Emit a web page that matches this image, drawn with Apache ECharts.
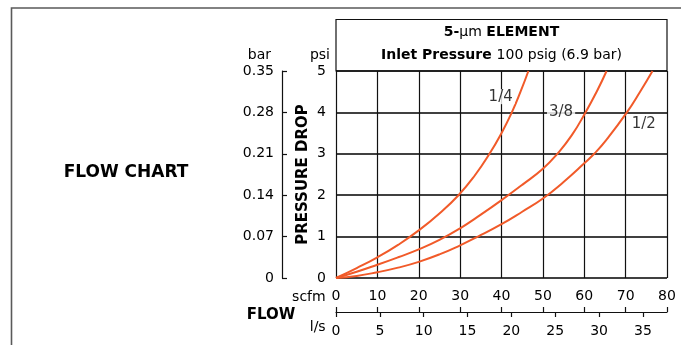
<!DOCTYPE html>
<html>
<head>
<meta charset="utf-8">
<script src="https://cdn.jsdelivr.net/npm/echarts@6/dist/echarts.min.js"></script>
<style>
html,body{margin:0;padding:0;background:#fff;}
#chart{width:681px;height:345px;}
</style>
</head>
<body>
<div id="chart"></div>
<script>
// ---- data ----
const scfmTicks = [0, 10, 20, 30, 40, 50, 60, 70, 80];
const lsTicks = [0, 5, 10, 15, 20, 25, 30, 35];
const psiTicks = [0, 1, 2, 3, 4, 5];
const barTicks = [0, 0.07, 0.14, 0.21, 0.28, 0.35];
const scfmMax = 80;
const lsMax = 37.75;   // 80 scfm expressed in l/s
const psiMax = 5;
const barMax = 0.35;

const seriesNames = ['1/4', '3/8', '1/2'];
const flow14 = [[0,0],[5,0.24],[10,0.5],[15,0.8],[20,1.15],[25,1.56],[29.6,2.0],[33.5,2.47],[37.1,3.0],[40,3.5],[42.5,4.0],[44.6,4.5],[46.5,5.0]];
const flow38 = [[0,0],[5,0.15],[10,0.32],[15,0.5],[20,0.69],[25,0.92],[30,1.2],[35,1.53],[40,1.88],[45,2.25],[50,2.64],[53.5,3.0],[57,3.45],[60.3,4.0],[63,4.5],[65.4,5.0]];
const flow12 = [[0,0],[5,0.05],[10,0.14],[15,0.25],[20,0.39],[25,0.57],[30,0.79],[34.3,1.0],[40,1.3],[45,1.6],[50,1.92],[55,2.32],[60,2.77],[62.4,3.0],[65.3,3.33],[70.3,4.0],[73.5,4.5],[76.5,5.0]];
const curveLabels = [[39.8, 4.38, '1/4'], [54.4, 4.0, '3/8'], [74.4, 3.71, '1/2']];

// ---- chart ----
const FONT = 'DejaVu Sans';
const ORANGE = '#F15A29';
const chart = echarts.init(document.getElementById('chart'), null, {renderer: 'canvas'});

function curve(name, data) {
  return {
    name: name, type: 'line', data: data, smooth: 0.5, showSymbol: false,
    xAxisIndex: 0, yAxisIndex: 0,
    lineStyle: {color: ORANGE, width: 2}, z: 5, silent: true
  };
}

const option = {
  animation: false,
  backgroundColor: '#fff',
  textStyle: {fontFamily: FONT, color: '#000'},
  grid: {left: 336, right: 14, top: 71, bottom: 67, containLabel: false},
  title: {
    left: 501.5, top: 21, textAlign: 'center', padding: 0,
    text: '{b|5-}{r|µm }{b|ELEMENT}\n{b|Inlet Pressure }{r|100 psig (6.9 bar)}',
    textStyle: {
      rich: {
        b: {fontFamily: FONT, fontWeight: 'bold', fontSize: 14, color: '#000', lineHeight: 23},
        r: {fontFamily: FONT, fontWeight: 'normal', fontSize: 14, color: '#000', lineHeight: 23}
      }
    }
  },
  xAxis: [
    {
      type: 'value', min: 0, max: scfmMax, interval: 10,
      position: 'bottom', offset: 34,
      name: 'scfm', nameLocation: 'start', nameGap: 10,
      nameTextStyle: {fontFamily: FONT, fontSize: 14, color: '#000', verticalAlign: 'bottom', padding: [0, 0, 8, 0]},
      axisLine: {show: true, onZero: false, lineStyle: {color: '#111', width: 1.2}},
      axisTick: {show: true, inside: true, length: 5, lineStyle: {color: '#111', width: 1.2}, customValues: scfmTicks},
      axisLabel: {show: true, inside: true, margin: 9, fontFamily: FONT, fontSize: 14, color: '#000', customValues: scfmTicks},
      splitLine: {show: true, lineStyle: {color: '#111', width: 1.2}}
    },
    {
      type: 'value', min: 0, max: lsMax,
      position: 'bottom', offset: 34,
      name: 'l/s', nameLocation: 'start', nameGap: 10,
      nameTextStyle: {fontFamily: FONT, fontSize: 14, color: '#000', verticalAlign: 'top', padding: [8, 0, 0, 0]},
      axisLine: {show: false, onZero: false},
      axisTick: {show: true, inside: false, length: 5, lineStyle: {color: '#111', width: 1.2}, customValues: lsTicks},
      axisLabel: {show: true, margin: 12, fontFamily: FONT, fontSize: 14, color: '#000', customValues: lsTicks},
      splitLine: {show: false}
    }
  ],
  yAxis: [
    {
      type: 'value', min: 0, max: psiMax, interval: 1,
      position: 'left', offset: 0,
      name: 'psi', nameLocation: 'end', nameGap: 9,
      nameTextStyle: {fontFamily: FONT, fontSize: 14, color: '#000', align: 'right', padding: [0, 6, 0, 0]},
      axisLine: {show: false, onZero: false},
      axisTick: {show: false},
      axisLabel: {show: true, margin: 10, fontFamily: FONT, fontSize: 14, color: '#000', customValues: psiTicks},
      splitLine: {show: true, lineStyle: {color: '#000', width: 1.6}}
    },
    {
      type: 'value', min: 0, max: barMax, interval: 0.07,
      position: 'left', offset: 54,
      name: 'bar', nameLocation: 'end', nameGap: 9,
      nameTextStyle: {fontFamily: FONT, fontSize: 14, color: '#000', align: 'right', padding: [0, 11, 0, 0]},
      axisLine: {show: true, onZero: false, lineStyle: {color: '#111', width: 1.2}},
      axisTick: {show: true, inside: true, length: 5, lineStyle: {color: '#111', width: 1.2}, customValues: barTicks},
      axisLabel: {show: true, margin: 8, fontFamily: FONT, fontSize: 14, color: '#000', customValues: barTicks,
        formatter: function (v) { return v === 0 ? '0' : v.toFixed(2); }},
      splitLine: {show: false}
    },
    {
      type: 'value', min: 0, max: psiMax, position: 'left', offset: 0,
      name: 'PRESSURE DROP', nameLocation: 'middle', nameGap: 25, nameRotate: 90,
      nameTextStyle: {fontFamily: FONT, fontSize: 15, fontWeight: 'bold', color: '#000'},
      axisLine: {show: false, onZero: false}, axisTick: {show: false}, axisLabel: {show: false}, splitLine: {show: false}
    }
  ],
  graphic: [
    {type: 'polyline', silent: true, z: 0,
      shape: {points: [[11.5, 345], [11.5, 8], [681, 8]]},
      style: {stroke: '#5a5a5a', lineWidth: 1.6, fill: null}},
    {type: 'rect', silent: true, z: 0,
      shape: {x: 336, y: 19.5, width: 331, height: 51.5},
      style: {stroke: '#111', lineWidth: 1.2, fill: null}},
    {type: 'text', silent: true, x: 126, y: 172.5,
      style: {text: 'FLOW CHART', font: 'bold 17px "DejaVu Sans"', fill: '#000', textAlign: 'center', textVerticalAlign: 'middle'}},
    {type: 'text', silent: true, x: 271, y: 315,
      style: {text: 'FLOW', font: 'bold 15px "DejaVu Sans"', fill: '#000', textAlign: 'center', textVerticalAlign: 'middle'}}
  ],
  series: [
    curve(seriesNames[0], flow14),
    curve(seriesNames[1], flow38),
    curve(seriesNames[2], flow12),
    {
      type: 'scatter', xAxisIndex: 0, yAxisIndex: 0, symbolSize: 0, silent: true, z: 6,
      data: curveLabels.map(function (d) { return {value: [d[0], d[1]], name: d[2]}; }),
      label: {
        show: true, position: 'inside', formatter: '{b}',
        fontFamily: FONT, fontSize: 15, color: '#000',
        backgroundColor: '#fff', padding: [0, 2]
      }
    }
  ]
};
chart.setOption(option);
</script>
</body>
</html>
